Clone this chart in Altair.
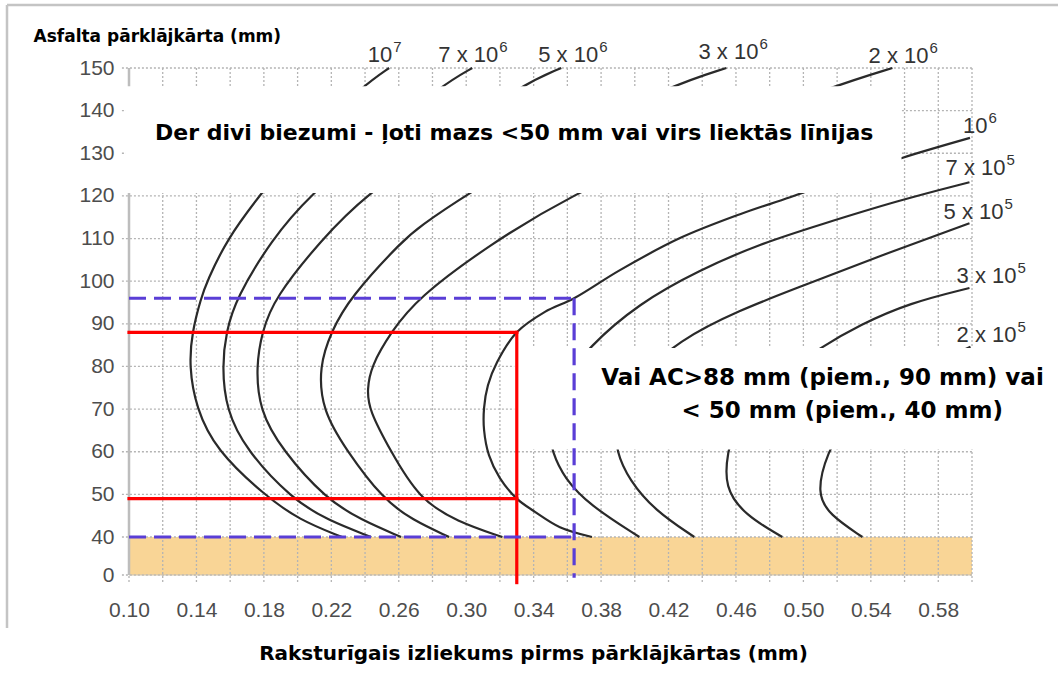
import altair as alt
import pandas as pd

# Plot area size in pixels
W, H = 843, 507

# Axes: characteristic deflection (mm) and asphalt overlay thickness (mm)
x_grid = [0.10, 0.12, 0.14, 0.16, 0.18, 0.20, 0.22, 0.24, 0.26, 0.28, 0.30, 0.32, 0.34,
          0.36, 0.38, 0.40, 0.42, 0.44, 0.46, 0.48, 0.50, 0.52, 0.54, 0.56, 0.58, 0.60]
x_labels = [0.10, 0.14, 0.18, 0.22, 0.26, 0.30, 0.34, 0.38, 0.42, 0.46, 0.50, 0.54, 0.58]
y_ticks = [0, 40, 50, 60, 70, 80, 90, 100, 110, 120, 130, 140, 150]

# Design curves (deflection, thickness) for each traffic level
curve_1e7 = [(0.2264, 40.0), (0.2009, 44.0), (0.1801, 49.9), (0.1516, 60.4), (0.1398, 70.2),
             (0.1356, 80.1), (0.1374, 88.1), (0.1427, 96.0), (0.1463, 100.0), (0.1582, 109.9),
             (0.1772, 120.0), (0.2039, 133.1), (0.2395, 146.0), (0.2543, 150.0)]
curve_7e6 = [(0.2436, 40.0), (0.2175, 44.0), (0.1967, 48.9), (0.1694, 60.4), (0.1576, 69.8),
             (0.1552, 80.1), (0.1576, 88.1), (0.1635, 96.0), (0.1849, 109.9), (0.2068, 120.0),
             (0.2454, 133.1), (0.2858, 146.0), (0.3036, 150.0)]
curve_5e6 = [(0.2614, 40.0), (0.2377, 44.0), (0.2169, 48.9), (0.1908, 60.4), (0.1772, 69.8),
             (0.1754, 80.1), (0.1789, 88.1), (0.1861, 96.0), (0.2145, 109.9), (0.2395, 120.0),
             (0.2869, 133.1), (0.3326, 146.0), (0.3564, 150.0)]
curve_3e6 = [(0.2899, 40.0), (0.2680, 44.0), (0.2506, 48.9), (0.2288, 60.4), (0.2145, 69.8),
             (0.2128, 80.1), (0.2199, 88.1), (0.2306, 96.0), (0.2632, 109.9), (0.2721, 112.7),
             (0.2976, 119.7), (0.3540, 133.1), (0.4223, 146.0), (0.4543, 150.0)]
curve_2e6 = [(0.3214, 40.0), (0.2946, 43.6), (0.2721, 48.9), (0.2548, 60.4), (0.2424, 69.8),
             (0.2412, 74.5), (0.2436, 80.1), (0.2555, 88.1), (0.2709, 96.0), (0.3136, 108.5),
             (0.3599, 119.7), (0.4323, 133.1), (0.5196, 146.0), (0.5528, 150.0)]
curve_1e6 = [(0.3746, 40.0), (0.3556, 42.3), (0.3408, 45.9), (0.3300, 49.0), (0.3200, 53.8),
             (0.3135, 59.2), (0.3106, 65.1), (0.3106, 70.3), (0.3129, 75.6), (0.3183, 81.0),
             (0.3300, 88.0), (0.3467, 92.8), (0.3640, 96.0), (0.3912, 102.6), (0.4268, 110.1),
             (0.4624, 115.7), (0.4921, 119.7), (0.5276, 124.7), (0.5585, 128.9), (0.5988, 133.6)]
curve_7e5 = [(0.4027, 40.0), (0.3730, 47.5), (0.3582, 53.8), (0.3510, 59.9), (0.3480, 66.0),
             (0.3580, 76.5), (0.3718, 84.3), (0.4027, 94.9), (0.4383, 102.6), (0.4739, 108.7),
             (0.5095, 113.2), (0.5570, 119.0), (0.5985, 123.2)]
curve_5e5 = [(0.4353, 40.0), (0.4116, 46.3), (0.3967, 53.4), (0.3890, 59.9), (0.3880, 67.0),
             (0.4000, 77.0), (0.4264, 86.2), (0.4620, 93.2), (0.4976, 98.6), (0.5451, 105.9),
             (0.5985, 113.6)]
curve_3e5 = [(0.4875, 40.0), (0.4650, 45.2), (0.4531, 51.7), (0.4549, 59.9), (0.4600, 67.0),
             (0.4830, 77.0), (0.5107, 84.6), (0.5332, 89.7), (0.5629, 94.9), (0.5985, 98.4)]
curve_2e5 = [(0.5350, 40.0), (0.5154, 45.2), (0.5077, 50.3), (0.5142, 59.9), (0.5250, 67.0),
             (0.5500, 76.0), (0.5991, 84.6)]

smooth_names = ["1e7", "7e6", "5e6", "3e6", "2e6", "7e5", "5e5", "3e5", "2e5"]
smooth_points = [curve_1e7, curve_7e6, curve_5e6, curve_3e6, curve_2e6,
                 curve_7e5, curve_5e5, curve_3e5, curve_2e5]

# Curve labels: mantissa text and power-of-ten exponent
label_base = ["10", "7 x 10", "5 x 10", "3 x 10", "2 x 10", "10", "7 x 10", "5 x 10", "3 x 10", "2 x 10"]
label_exp = ["7", "6", "6", "6", "6", "6", "5", "5", "5", "5"]
label_x = [0.2561, 0.3190, 0.3783, 0.4733, 0.5742, 0.6092, 0.6199, 0.6187, 0.6264, 0.6264]
label_y = [151.4, 151.4, 151.4, 152.1, 151.2, 134.7, 124.9, 114.6, 99.6, 85.7]

# Worked example: deflection 0.33 mm -> 88 / 49 mm; deflection 0.364 mm -> 96 / 40 mm
red_x = 0.33
red_levels = [88, 49]
blue_x = 0.364
blue_levels = [96, 40]

# Unusable thin-layer zone
band_top = 40

# Annotation boxes (x0, x1, y0, y1)
box_top = (0.098, 0.5582, 120.7, 145.7)
box_right = (0.3285, 0.6513, 60.5, 84.3)
note_top = "Der divi biezumi - ļoti mazs <50 mm vai virs liektās līnijas"
note_right = ["Vai AC>88 mm (piem., 90 mm) vai", "< 50 mm (piem., 40 mm)"]
note_right_x = [0.5113, 0.5230]
note_right_y = [75.6, 67.9]

x_title = "Raksturīgais izliekums pirms pārklājkārtas (mm)"
y_title = "Asfalta pārklājkārta (mm)"

# ---------------------------------------------------------------- tables
def curve_table(names, point_lists):
    rows = []
    for name, pts in zip(names, point_lists):
        for i, (cx, cy) in enumerate(pts):
            rows.append({"name": name, "seq": i, "x": cx, "y": cy})
    return pd.DataFrame(rows)


smooth_df = curve_table(smooth_names, smooth_points)
example_df = curve_table(["1e6"], [curve_1e6])
labels_df = pd.DataFrame({"base": label_base, "exp": label_exp, "x": label_x, "y": label_y})

x_scale = alt.Scale(domain=[0.10, 0.60], nice=False, zero=False)
y_scale = alt.Scale(domain=[0, 40, 150], range=[H, H - 38, 0], nice=False, zero=False)

GRID = "#b4b4b4"
TICK_FONT = "Liberation Sans"
NOTE_FONT = "DejaVu Sans"
CURVE = "#2a2a2a"


def X(field, **kw):
    return alt.X(field, type="quantitative", scale=x_scale, **kw)


def Y(field, **kw):
    return alt.Y(field, type="quantitative", scale=y_scale, **kw)


# Axes (labels + titles only); grid and axis lines are drawn as rules below
axes = alt.Chart(pd.DataFrame({"x": [0.10], "y": [0]})).mark_point(opacity=0).encode(
    x=X("x", axis=alt.Axis(
        values=x_labels, format=".2f", grid=False, ticks=False, domain=False, labelFlush=False,
        labelFont=TICK_FONT, labelFontSize=21, labelColor="#4d4d4d", labelPadding=24,
        title=x_title, titleFont=NOTE_FONT, titleFontSize=20, titleFontWeight="bold",
        titleColor="#000000", titleX=404, titleY=84, titleBaseline="alphabetic")),
    y=Y("y", axis=alt.Axis(
        values=y_ticks, grid=False, ticks=False, domain=False,
        labelFont=TICK_FONT, labelFontSize=21, labelColor="#4d4d4d", labelPadding=15,
        title=y_title, titleFont=NOTE_FONT, titleFontSize=17, titleFontWeight="bold",
        titleColor="#000000", titleAngle=0, titleAlign="left", titleBaseline="alphabetic",
        titleX=-96, titleY=-27)),
)

band = alt.Chart(pd.DataFrame({"x": [0.10], "x2": [0.60], "y": [0], "y2": [band_top]})).mark_rect(
    color="#F9D596").encode(x=X("x"), x2="x2", y=Y("y"), y2="y2")

vgrid = alt.Chart(pd.DataFrame({"x": x_grid, "y": [150] * len(x_grid), "y2": [-8] * len(x_grid)})).mark_rule(
    color=GRID, strokeWidth=1.3, strokeDash=[2, 2]).encode(x=X("x"), y=Y("y"), y2="y2")

hgrid = alt.Chart(pd.DataFrame({"y": y_ticks, "x": [0.0958] * len(y_ticks), "x2": [0.60] * len(y_ticks)})).mark_rule(
    color=GRID, strokeWidth=1.3, strokeDash=[2, 2]).encode(y=Y("y"), x=X("x"), x2="x2")

y_axis_line = alt.Chart(pd.DataFrame({"x": [0.10], "y": [0], "y2": [150]})).mark_rule(
    color="#bdbdbd", strokeWidth=2.5).encode(x=X("x"), y=Y("y"), y2="y2")
x_axis_line = alt.Chart(pd.DataFrame({"y": [0], "x": [0.10], "x2": [0.60]})).mark_rule(
    color="#cfc3ad", strokeWidth=1).encode(y=Y("y"), x=X("x"), x2="x2")

lines = alt.Chart(smooth_df).mark_line(
    interpolate="basis", color=CURVE, strokeWidth=2.2).encode(
    x=X("x"), y=Y("y"), detail="name:N", order="seq:Q")
example_line = alt.Chart(example_df).mark_line(
    interpolate="catmull-rom", color=CURVE, strokeWidth=2.2).encode(
    x=X("x"), y=Y("y"), order="seq:Q")

boxes = alt.Chart(pd.DataFrame({
    "x": [box_top[0], box_right[0]], "x2": [box_top[1], box_right[1]],
    "y": [box_top[2], box_right[2]], "y2": [box_top[3], box_right[3]]})).mark_rect(
    color="#ffffff").encode(x=X("x"), x2="x2", y=Y("y"), y2="y2")

red_h = alt.Chart(pd.DataFrame({"y": red_levels, "x": [0.10] * 2, "x2": [red_x] * 2})).mark_rule(
    color="#ff0000", strokeWidth=3.2, strokeCap="square").encode(y=Y("y"), x=X("x"), x2="x2")
red_v = alt.Chart(pd.DataFrame({"x": [red_x], "y": [max(red_levels)], "y2": [-8]})).mark_rule(
    color="#ff0000", strokeWidth=3.2, strokeCap="square").encode(x=X("x"), y=Y("y"), y2="y2")

blue_h = alt.Chart(pd.DataFrame({"y": blue_levels, "x": [0.10] * 2, "x2": [blue_x] * 2})).mark_rule(
    color="#5A3ED6", strokeWidth=3.2, strokeDash=[17, 8]).encode(y=Y("y"), x=X("x"), x2="x2")
blue_v = alt.Chart(pd.DataFrame({"x": [blue_x], "y": [max(blue_levels)], "y2": [-3]})).mark_rule(
    color="#5A3ED6", strokeWidth=3.2, strokeDash=[17, 8]).encode(x=X("x"), y=Y("y"), y2="y2")

lab_base = alt.Chart(labels_df).mark_text(
    font=TICK_FONT, fontSize=22, color="#333333", align="right", baseline="alphabetic").encode(
    x=X("x"), y=Y("y"), text="base:N")
lab_exp = alt.Chart(labels_df).mark_text(
    font=TICK_FONT, fontSize=15, color="#333333", align="left", baseline="alphabetic", dx=1, dy=-10).encode(
    x=X("x"), y=Y("y"), text="exp:N")

note1 = alt.Chart(pd.DataFrame({"x": [0.3285], "y": [133.1], "t": [note_top]})).mark_text(
    font=NOTE_FONT, fontSize=22, fontWeight="bold", color="#000000", align="center", baseline="alphabetic").encode(
    x=X("x"), y=Y("y"), text="t:N")
note2 = alt.Chart(pd.DataFrame({"x": note_right_x, "y": note_right_y, "t": note_right})).mark_text(
    font=NOTE_FONT, fontSize=23, fontWeight="bold", color="#000000", align="center", baseline="alphabetic").encode(
    x=X("x"), y=Y("y"), text="t:N")

# Thin frame around the figure (top and left edges)
one = pd.DataFrame({"a": [0]})
frame_top = alt.Chart(one).mark_rule(color="#c4c4c4", strokeWidth=2.5).encode(
    x=alt.value(-122), x2=alt.value(929), y=alt.value(-63))
frame_left = alt.Chart(one).mark_rule(color="#c4c4c4", strokeWidth=2.5).encode(
    x=alt.value(-122), y=alt.value(-63), y2=alt.value(560))

chart = alt.layer(
    axes, band, vgrid, hgrid, x_axis_line, y_axis_line, lines, example_line, boxes,
    red_h, red_v, blue_h, blue_v, lab_base, lab_exp, note1, note2,
    frame_top, frame_left,
).properties(
    width=W, height=H,
    autosize=alt.AutoSizeParams(type="none"),
    padding={"left": 129, "top": 68, "right": 87, "bottom": 98},
    background="#ffffff",
).configure_view(stroke=None)

chart.save("out.html", embed_options={"renderer": "svg", "actions": False})
